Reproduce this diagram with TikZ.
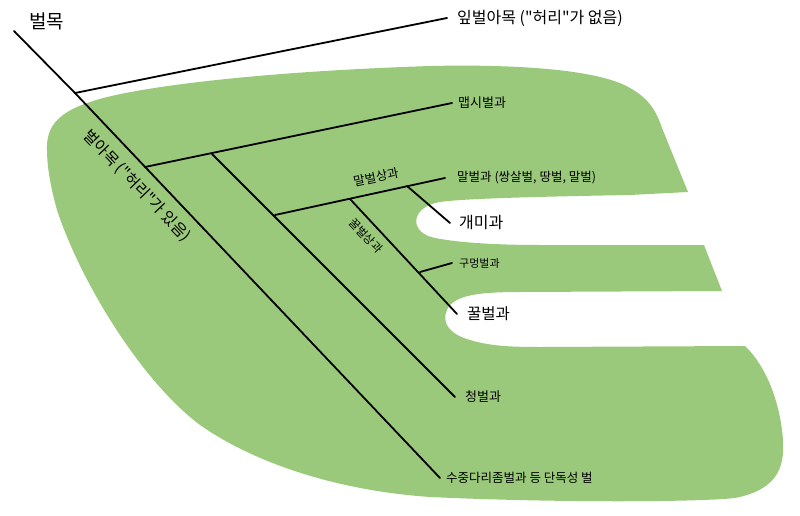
\documentclass[tikz,border=0pt]{standalone}
\usepackage{fontspec}
\newfontfamily\kr{Noto Sans CJK KR}
\definecolor{leaf}{RGB}{155,201,123}
\begin{document}
\begin{tikzpicture}[x=1pt,y=-1pt,
  lab/.style={font=\kr\fontsize{#1}{#1}\selectfont, anchor=west, inner xsep=9pt, inner ysep=1pt},
  tilt/.style={font=\kr\fontsize{#1}{#1}\selectfont, inner sep=1pt},
  br/.style={line width=1.8pt, line cap=round}]
\useasboundingbox (0,0) rectangle (800,516);
% green region
\fill[leaf] (47,150) .. controls (46,125) and (60,112) .. (90,102)
  .. controls (130,88) and (250,72) .. (430,66)
  .. controls (520,64) and (600,70) .. (630,88)
  .. controls (648,98) and (656,110) .. (662,128)
  -- (688,192) -- (630,195)
  .. controls (520,197) and (450,199) .. (435,203)
  .. controls (410,210) and (410,233) .. (435,238)
  .. controls (460,243) and (500,245) .. (540,245)
  -- (704,245) -- (722,291) -- (520,292)
  .. controls (480,292) and (460,295) .. (450,305)
  .. controls (440,318) and (445,333) .. (470,340)
  .. controls (490,346) and (510,347) .. (540,347)
  -- (745,346)
  .. controls (765,365) and (780,400) .. (783,440)
  .. controls (785,470) and (775,490) .. (735,498)
  .. controls (700,502) and (560,503) .. (430,497)
  .. controls (330,490) and (250,460) .. (200,425)
  .. controls (140,380) and (80,280) .. (57,210)
  .. controls (50,185) and (47,165) .. (47,150) -- cycle;
% branch points
\coordinate (root) at (14,31);
\coordinate (n1) at (75,93);
\coordinate (n2) at (145,167);
\coordinate (n3) at (212,154);
\coordinate (n4) at (275,215);
\coordinate (n5) at (350,199);
\coordinate (n6) at (407,186);
\coordinate (n7) at (420,272);
% labels
\node[lab=19, inner xsep=0pt] (hym) at (29,21) {벌목};
\node[lab=16, inner xsep=10pt] (sym) at (447,18) {잎벌아목 ("허리"가 없음)};
\node[lab=13, inner xsep=6pt] (ich) at (452,103) {맵시벌과};
\node[lab=12.5, inner xsep=12pt] (ves) at (445,178) {말벌과 (쌍살벌, 땅벌, 말벌)};
\node[lab=16] (for) at (450,223) {개미과};
\node[lab=11, inner xsep=7pt] (cra) at (452,263) {구멍벌과};
\node[lab=15.5, inner xsep=10pt] (api) at (457,314) {꿀벌과};
\node[lab=13, inner xsep=10pt] (chr) at (455,397) {청벌과};
\node[lab=12.5, inner xsep=6pt] (cha) at (440,478) {수중다리좀벌과 등 단독성 벌};
\node[tilt=15.5, rotate=-46.3] (apo) at (137,186) {벌아목 ("허리"가 있음)};
\node[tilt=12.5, rotate=12.3] (vesp) at (376,177) {말벌상과};
\node[tilt=11.5, rotate=-46.5] (apoi) at (366,236) {꿀벌상과};
% tree
\draw[br] (root) -- (n1) -- (cha.west);
\draw[br] (n1) -- (sym.west);
\draw[br] (n2) -- (ich.west);
\draw[br] (n3) -- (chr.west);
\draw[br] (n4) -- (ves.west);
\draw[br] (n5) -- (api.west);
\draw[br] (n6) -- (for.west);
\draw[br] (n7) -- (cra.west);
\end{tikzpicture}
\end{document}
